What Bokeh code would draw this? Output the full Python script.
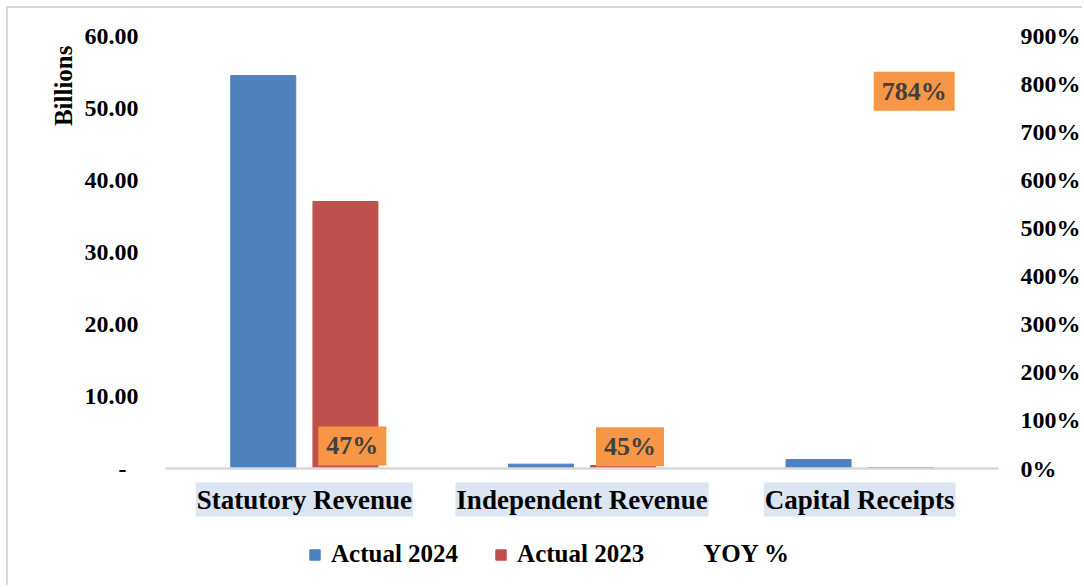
import math
from bokeh.plotting import figure
from bokeh.models import (FactorRange, Range1d, LinearAxis, FixedTicker, Span,
                          Title, ColumnDataSource, Legend, LegendItem)
from bokeh.core.properties import value
from bokeh.transform import dodge
from bokeh.embed import file_html
from bokeh.resources import INLINE

# ---------------- data ----------------
categories = ["Statutory Revenue", "Independent Revenue", "Capital Receipts"]
actual_2024 = [54.46, 0.60, 1.25]
actual_2023 = [37.00, 0.414, 0.141]
yoy_pct = [47, 45, 784]
yoy_labels = ["47%", "45%", "784%"]
left_ticks = [0, 10, 20, 30, 40, 50, 60]
left_tick_labels = ["-\u00a0\u00a0", "10.00", "20.00", "30.00", "40.00", "50.00", "60.00"]
right_ticks = [0, 100, 200, 300, 400, 500, 600, 700, 800, 900]
right_tick_labels = ["0%", "100%", "200%", "300%", "400%", "500%", "600%", "700%", "800%", "900%"]

FONT = "Liberation Serif"
BLUE = "#4f81bd"
RED = "#c0504d"

src = ColumnDataSource(dict(cat=categories, a24=actual_2024, a23=actual_2023,
                            yoy=yoy_pct, yoy_lbl=yoy_labels,
                            cat_y=[-4.3] * len(categories)))

y_start, y_end = -15.52, 62.08
p = figure(width=1076, height=579,
           x_range=FactorRange(*categories, range_padding=0, factor_padding=0),
           y_range=Range1d(y_start, y_end),
           x_axis_location=None,
           min_border_left=157, min_border_right=86, min_border_top=12, min_border_bottom=7,
           toolbar_location=None, output_backend="svg",
           outline_line_color=None, background_fill_color="white",
           border_fill_color="white")
p.margin = (6, 0, 0, 6)
p.styles = {"border-top": "2px solid #d9d9d9", "border-left": "2px solid #d9d9d9"}
p.xgrid.visible = False
p.ygrid.visible = False

# left axis
ya = p.yaxis[0]
ya.ticker = FixedTicker(ticks=left_ticks)
ya.major_label_overrides = {t: l for t, l in zip(left_ticks, left_tick_labels)}
ya.axis_line_color = None
ya.major_tick_line_color = None
ya.minor_tick_line_color = None
ya.major_label_standoff = 21
ya.major_label_text_font = FONT
ya.major_label_text_font_style = "bold"
ya.major_label_text_font_size = "24px"
ya.major_label_text_color = "black"

# right axis
p.extra_y_ranges = {"pct": Range1d(y_start * 15, y_end * 15)}
ra = LinearAxis(y_range_name="pct", ticker=FixedTicker(ticks=right_ticks),
                major_label_overrides={t: l for t, l in zip(right_ticks, right_tick_labels)})
ra.axis_line_color = None
ra.major_tick_line_color = None
ra.minor_tick_line_color = None
ra.major_label_standoff = 16
ra.major_label_text_font = FONT
ra.major_label_text_font_style = "bold"
ra.major_label_text_font_size = "24px"
ra.major_label_text_color = "black"
p.add_layout(ra, "right")

# baseline
p.add_layout(Span(location=0, dimension="width", line_color="#d9d9d9", line_width=2.5))

# bars
r24 = p.vbar(x=dodge("cat", -0.148, range=p.x_range), top="a24", width=0.234,
             source=src, fill_color=BLUE, line_color=BLUE)
r23 = p.vbar(x=dodge("cat", 0.148, range=p.x_range), top="a23", width=0.234,
             source=src, fill_color=RED, line_color=RED)
ryoy = p.line(x="cat", y="yoy", y_range_name="pct", source=src, line_alpha=0)

# YOY data labels
p.text(x="cat", y="yoy", y_range_name="pct", text="yoy_lbl", source=src,
       x_offset=14, text_align="left", text_baseline="middle",
       text_font=value(FONT), text_font_style="bold", text_font_size="26px",
       text_color="#404040", background_fill_color="#f79646",
       padding=(8, 5))

# category labels
p.text(x="cat", y="cat_y", text="cat", source=src,
       text_align="center", text_baseline="middle",
       text_font=value(FONT), text_font_style="bold", text_font_size="27px",
       text_color="black", background_fill_color="#dce6f2", padding=(1, 2))

# axis title
p.add_layout(Title(text="Billions", align="right", offset=25,
                   text_font=FONT, text_font_style="bold", text_font_size="25px",
                   text_color="black", standoff=10), "left")

legend = Legend(items=[LegendItem(label="Actual 2024", renderers=[r24]),
                       LegendItem(label="Actual 2023", renderers=[r23]),
                       LegendItem(label="YOY %", renderers=[ryoy])],
                orientation="horizontal", location=(143, 12),
                glyph_width=13, glyph_height=13, label_standoff=10, spacing=36,
                padding=0, margin=0, border_line_color=None, background_fill_alpha=0,
                label_text_font=FONT, label_text_font_style="bold",
                label_text_font_size="25px", label_text_color="black")
p.add_layout(legend)

open("out.html", "w").write(file_html(p, INLINE))
